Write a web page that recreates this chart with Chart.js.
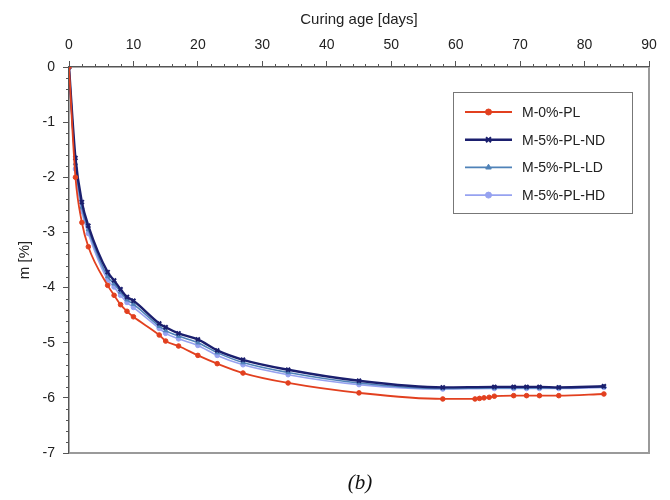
<!DOCTYPE html>
<html>
<head>
<meta charset="utf-8">
<script src="https://cdn.jsdelivr.net/npm/chart.js@4.4.0/dist/chart.umd.min.js"></script>
<style>
    body { margin: 0; background: #fff; }
    #wrap { position: relative; width: 670px; height: 500px; }
    #caption {
        position: absolute; left: 0; width: 720px; top: 470px; text-align: center;
        font: italic 21px "Liberation Serif", "DejaVu Serif", serif; color: #111;
    }
</style>
</head>
<body>
<div id="wrap">
    <canvas id="chart" width="670" height="500"></canvas>
    <div id="caption">(b)</div>
</div>
<script>
// Mass change vs curing age
const daysRef = [0, 1, 2, 3, 6, 7, 8, 9, 10, 14, 15, 17, 20, 23, 27, 34, 45, 58, 63, 63.7, 64.4, 65.2, 66, 69, 71, 73, 76, 83];
const mRef = [0, -2.0, -2.82, -3.26, -3.96, -4.14, -4.31, -4.43, -4.53, -4.86, -4.97, -5.06, -5.23, -5.38, -5.55, -5.73, -5.91,
    -6.02, -6.02, -6.01, -6.0, -5.99, -5.97, -5.96, -5.96, -5.96, -5.96, -5.93];

const daysPL = [0, 1, 2, 3, 6, 7, 8, 9, 10, 14, 15, 17, 20, 23, 27, 34, 45, 58, 66, 69, 71, 73, 76, 83];
const mND = [0, -1.65, -2.45, -2.88, -3.72, -3.87, -4.03, -4.17, -4.24, -4.65, -4.72, -4.83, -4.94, -5.14, -5.31, -5.49, -5.69,
    -5.81, -5.80, -5.80, -5.80, -5.80, -5.81, -5.79];
const mLD = [0, -1.75, -2.55, -2.95, -3.8, -3.93, -4.08, -4.22, -4.3, -4.7, -4.78, -4.88, -5.0, -5.18, -5.36, -5.54, -5.73,
    -5.83, -5.82, -5.82, -5.82, -5.82, -5.82, -5.8];
const mHD = [0, -1.85, -2.62, -3.02, -3.86, -3.99, -4.14, -4.27, -4.36, -4.74, -4.83, -4.93, -5.05, -5.23, -5.4, -5.58, -5.76,
    -5.84, -5.83, -5.83, -5.83, -5.83, -5.83, -5.81];

const seriesLabels = ['M-0%-PL', 'M-5%-PL-ND', 'M-5%-PL-LD', 'M-5%-PL-HD'];
const xTicks = [0, 10, 20, 30, 40, 50, 60, 70, 80, 90];
const yTicks = [0, -1, -2, -3, -4, -5, -6, -7];

const toPoints = (xs, ys) => xs.map((x, i) => ({ x: x, y: ys[i] }));

function series(label, xs, ys, color, style, radius, width) {
    return {
        label: label,
        data: toPoints(xs, ys),
        borderColor: color,
        backgroundColor: color,
        borderWidth: width,
        pointStyle: style,
        pointRadius: radius,
        pointBorderWidth: style === 'crossRot' ? 2 : 1,
        cubicInterpolationMode: 'monotone',
        fill: false
    };
}

const datasets = [
    series(seriesLabels[0], daysRef, mRef, '#e2401f', 'circle', 2.3, 1.8),
    series(seriesLabels[1], daysPL, mND, '#1b1f6e', 'crossRot', 2.8, 2.4),
    series(seriesLabels[2], daysPL, mLD, '#4f82b8', 'triangle', 2.5, 1.6),
    series(seriesLabels[3], daysPL, mHD, '#96a2f0', 'circle', 2.3, 1.6)
];

// minor ticks, right/bottom frame and the boxed legend
const framePlugin = {
    id: 'frame',
    afterDraw(chart) {
        const ctx = chart.ctx;
        const a = chart.chartArea;
        const xs = chart.scales.x, ys = chart.scales.y;
        ctx.save();
        ctx.strokeStyle = '#9a9a9a';
        ctx.lineWidth = 2;
        ctx.beginPath();
        ctx.moveTo(a.left, a.bottom);
        ctx.lineTo(a.right, a.bottom);
        ctx.lineTo(a.right, a.top);
        ctx.stroke();

        ctx.strokeStyle = '#555';
        ctx.lineWidth = 1;
        ctx.beginPath();
        for (let d = 0; d <= 90; d += 2) {
            if (d % 10 === 0) continue;
            const px = Math.round(xs.getPixelForValue(d)) + 0.5;
            ctx.moveTo(px, a.top);
            ctx.lineTo(px, a.top - 3);
        }
        for (let k = 0; k <= 35; k++) {
            if (k % 5 === 0) continue;
            const py = Math.round(ys.getPixelForValue(-k * 0.2)) + 0.5;
            ctx.moveTo(a.left, py);
            ctx.lineTo(a.left - 3, py);
        }
        ctx.stroke();

        // legend box
        const bx = 453, by = 92, bw = 179, bh = 121;
        ctx.fillStyle = '#fff';
        ctx.fillRect(bx, by, bw, bh);
        ctx.strokeStyle = '#777';
        ctx.lineWidth = 1;
        ctx.strokeRect(bx + 0.5, by + 0.5, bw, bh);
        ctx.font = '14px "Liberation Sans", Arial, sans-serif';
        ctx.textBaseline = 'middle';
        chart.data.datasets.forEach((ds, i) => {
            const y = 112 + i * 27.7;
            ctx.strokeStyle = ds.borderColor;
            ctx.lineWidth = ds.borderWidth;
            ctx.beginPath();
            ctx.moveTo(465, y);
            ctx.lineTo(512, y);
            ctx.stroke();
            ctx.fillStyle = ds.backgroundColor;
            ctx.lineWidth = ds.pointBorderWidth;
            Chart.helpers.drawPoint(ctx, {
                pointStyle: ds.pointStyle,
                radius: ds.pointRadius + 0.7,
                rotation: 0,
                borderWidth: ds.pointBorderWidth
            }, 488.5, y);
            ctx.fillStyle = '#222';
            ctx.fillText(ds.label, 522, y + 1);
        });
        ctx.restore();
    }
};

const tickFont = { family: '"Liberation Sans", Arial, sans-serif', size: 14 };

new Chart(document.getElementById('chart'), {
    type: 'line',
    data: { datasets: datasets },
    options: {
        responsive: false,
        animation: false,
        layout: { padding: { top: 0, left: 0, right: 21, bottom: 47 } },
        plugins: { legend: { display: false }, tooltip: { enabled: false } },
        scales: {
            x: {
                type: 'linear',
                position: 'top',
                min: 0,
                max: 90,
                afterFit: (s) => { s.height = 67; },
                afterBuildTicks: (s) => { s.ticks = xTicks.map(v => ({ value: v })); },
                title: { display: true, text: 'Curing age [days]', color: '#222', font: { ...tickFont, size: 15 }, padding: { top: 11, bottom: 0 } },
                ticks: { color: '#222', font: tickFont, padding: 7, maxRotation: 0 },
                grid: { drawOnChartArea: false, tickLength: 6, color: '#555' },
                border: { color: '#555', width: 1.5 }
            },
            y: {
                type: 'linear',
                min: -7,
                max: 0,
                afterFit: (s) => { s.width = 69; },
                afterBuildTicks: (s) => { s.ticks = yTicks.map(v => ({ value: v })); },
                title: { display: true, text: 'm [%]', color: '#222', font: { ...tickFont, size: 15 }, padding: { top: 16, bottom: 0 } },
                ticks: { color: '#222', font: tickFont, padding: 8 },
                grid: { drawOnChartArea: false, tickLength: 6, color: '#555' },
                border: { color: '#555', width: 1.5 }
            }
        }
    },
    plugins: [framePlugin]
});
</script>
</body>
</html>
